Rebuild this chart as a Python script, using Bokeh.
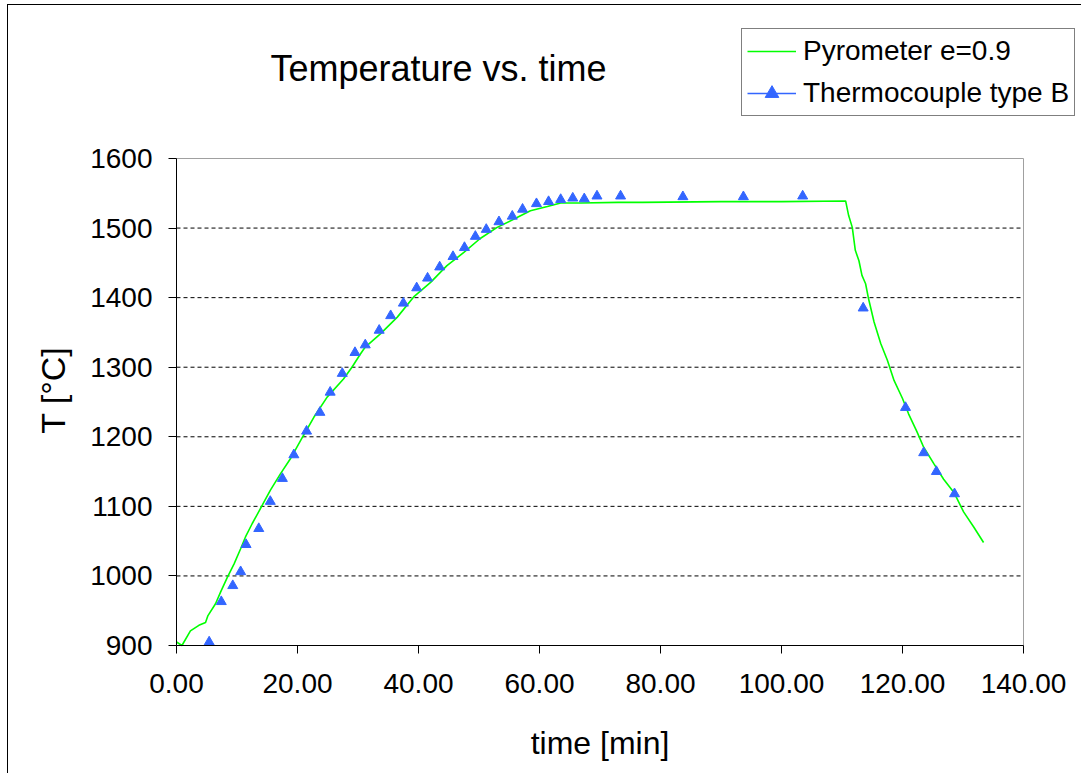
import math
from bokeh.plotting import figure
from bokeh.models import FixedTicker, Legend, LegendItem, Label, Range1d, ColumnDataSource
from bokeh.embed import file_html
from bokeh.resources import INLINE

# ---------------- data ----------------
title_text = "Temperature vs. time"
x_title = "time [min]"
y_title = "T  [°C]"
series_names = ["Pyrometer e=0.9", "Thermocouple type B"]

x_ticks = [0, 20, 40, 60, 80, 100, 120, 140]
x_tick_labels = ["0.00", "20.00", "40.00", "60.00", "80.00", "100.00", "120.00", "140.00"]
y_ticks = [900, 1000, 1100, 1200, 1300, 1400, 1500, 1600]
y_grid = [1000, 1100, 1200, 1300, 1400, 1500]

py_time = [0.0, 0.9, 2.3, 3.7, 4.8, 5.2, 6.45, 7.3, 8.4, 9.5, 10.6, 11.4, 12.5, 14.2,
           15.5, 17.2, 18.8, 20.8, 22.7, 24.9, 27.6, 29.0, 30.4, 31.2, 33.7, 36.5,
           39.2, 42.0, 44.7, 47.5, 50.2, 53.0, 55.8, 58.5, 61.3, 63.5, 66.8, 73.0,
           77.0, 90.0, 100.0, 110.6, 111.1, 111.7, 112.2, 112.8, 113.3, 113.9, 114.4,
           115.3, 116.4, 117.5, 118.6, 120.0, 121.0, 122.4, 123.5, 125.2, 126.8,
           128.5, 130.1, 131.8, 133.4]
py_temp = [905, 900, 921, 929, 933, 943, 960, 977, 998, 1017, 1039, 1056, 1075, 1102,
           1123, 1147, 1168, 1199, 1228, 1257, 1283, 1300, 1319, 1329, 1348, 1372,
           1401, 1422, 1446, 1465, 1485, 1501, 1513, 1525, 1531, 1536, 1536, 1537,
           1537, 1538, 1538, 1539, 1518, 1501, 1468, 1453, 1432, 1420, 1398,
           1365, 1334, 1310, 1281, 1255, 1233, 1207, 1185, 1161, 1139,
           1120, 1092, 1070, 1048]

tc_time = [5.4, 7.4, 9.3, 10.6, 11.5, 13.6, 15.5, 17.5, 19.4, 21.5, 23.7, 25.4, 27.4,
           29.5, 31.2, 33.5, 35.4, 37.5, 39.7, 41.5, 43.5, 45.7, 47.6, 49.4, 51.2,
           53.3, 55.5, 57.2, 59.5, 61.5, 63.5, 65.5, 67.4, 69.5, 73.4, 83.7, 93.7,
           103.5, 113.5, 120.5, 123.5, 125.6, 128.6]
tc_temp = [905, 963, 986, 1006, 1045, 1068, 1107, 1140, 1174, 1208, 1235, 1264, 1291,
           1321, 1332, 1353, 1374, 1392, 1414, 1428, 1444, 1459, 1472, 1488, 1498,
           1509, 1517, 1527, 1535, 1538, 1541, 1543, 1542, 1546, 1546, 1545, 1545,
           1546, 1385, 1242, 1177, 1150, 1118]

# ---------------- layout geometry (pixels, canvas coordinates) ----------------
FONT = "Liberation Sans"
CW, CH = 1074, 769          # canvas size
PL = 168                    # left edge of the 0..140 plot area on canvas
PB = 640                    # bottom edge of the 900..1600 plot area on canvas
PLOT_W, PLOT_H = 847, 487   # size of the plot area
px_per_x = PLOT_W / (x_ticks[-1] - x_ticks[0])
px_per_y = PLOT_H / (y_ticks[-1] - y_ticks[0])
x_start = x_ticks[0] - PL / px_per_x
x_end = x_ticks[0] + (CW - PL) / px_per_x
y_start = y_ticks[0] - (CH - PB) / px_per_y
y_end = y_ticks[0] + PB / px_per_y

p = figure(width=CW, height=CH, output_backend="svg", toolbar_location=None,
           x_range=Range1d(x_start, x_end), y_range=Range1d(y_start, y_end),
           min_border_left=0, min_border_right=0, min_border_top=0, min_border_bottom=0)
p.styles = {"margin-left": "7px", "margin-top": "4px",
            "border-left": "1px solid black", "border-top": "1px solid black"}
p.background_fill_color = "white"
p.border_fill_color = "white"
p.outline_line_color = None
p.xgrid.grid_line_color = None
p.ygrid.grid_line_color = None

# dashed horizontal gridlines, only across the plot area
src_grid = ColumnDataSource(dict(x0=[x_ticks[0]] * len(y_grid), x1=[x_ticks[-1]] * len(y_grid),
                                 y=y_grid))
p.segment(x0="x0", x1="x1", y0="y", y1="y", source=src_grid,
          line_color="black", line_dash="4 3", line_width=1)

# plot-area border (grey, top and right)
p.line([x_ticks[0], x_ticks[-1], x_ticks[-1]], [y_ticks[-1], y_ticks[-1], y_ticks[0]],
       line_color="#a0a0a0", line_width=1)

# axes (drawn at the plot-area edges)
for ax in (p.xaxis[0], p.yaxis[0]):
    ax.axis_line_color = "black"
    ax.axis_line_width = 1
    ax.major_tick_line_color = "black"
    ax.major_tick_out = 8
    ax.major_tick_in = 0
    ax.minor_tick_line_color = None
    ax.major_label_text_font = FONT
    ax.major_label_text_font_size = "28px"
    ax.major_label_text_color = "black"

p.xaxis.ticker = FixedTicker(ticks=x_ticks)
p.xaxis.major_label_overrides = {t: l for t, l in zip(x_ticks, x_tick_labels)}
p.xaxis.bounds = (x_ticks[0], x_ticks[-1])
p.xaxis.fixed_location = y_ticks[0]
p.yaxis.ticker = FixedTicker(ticks=y_ticks)
p.yaxis.bounds = (y_ticks[0], y_ticks[-1])
p.yaxis.fixed_location = x_ticks[0]
p.xaxis.major_label_standoff = 20
p.yaxis.major_label_standoff = 16

# series
src_py = ColumnDataSource(dict(x=py_time, y=py_temp))
src_tc = ColumnDataSource(dict(x=tc_time, y=tc_temp))
src_legend_line = ColumnDataSource(dict(x=[math.nan], y=[math.nan]))

gl = p.line("x", "y", source=src_py, line_color="#00ff00", line_width=1.6)
sc = p.scatter("x", "y", source=src_tc, marker="triangle", size=10,
               fill_color="#3366ff", line_color="#3366ff")
bl = p.line("x", "y", source=src_legend_line, line_color="#3366ff", line_width=1.6)

# legend (bottom edge 111 px from canvas top)
legend = Legend(items=[LegendItem(label=series_names[0], renderers=[gl]),
                       LegendItem(label=series_names[1], renderers=[bl, sc])],
                location=(733, CH - 111), orientation="vertical")
legend.label_text_font = FONT
legend.label_text_font_size = "28px"
legend.label_text_color = "black"
legend.border_line_color = "black"
legend.border_line_width = 1
legend.background_fill_color = "white"
legend.background_fill_alpha = 1
legend.glyph_width = 49
legend.glyph_height = 34
legend.label_height = 34
legend.label_standoff = 7
legend.padding = 5
legend.spacing = 8
legend.margin = 0
p.add_layout(legend)

# title and axis titles
p.add_layout(Label(x=430, y=CH - 62.5, x_units="screen", y_units="screen", text=title_text,
                   text_align="center", text_baseline="middle",
                   text_font=FONT, text_font_size="36px", text_color="black"))
p.add_layout(Label(x=(x_ticks[0] + x_ticks[-1]) / 2, y=CH - 737, x_units="data", y_units="screen",
                   text=x_title, text_align="center", text_baseline="middle",
                   text_font=FONT, text_font_size="32px", text_color="black"))
p.add_layout(Label(x=44, y=CH - 380, x_units="screen", y_units="screen", angle=math.pi / 2,
                   text=y_title, text_align="center", text_baseline="middle",
                   text_font=FONT, text_font_size="34px", text_color="black"))

open("out.html", "w").write(file_html(p, INLINE))
